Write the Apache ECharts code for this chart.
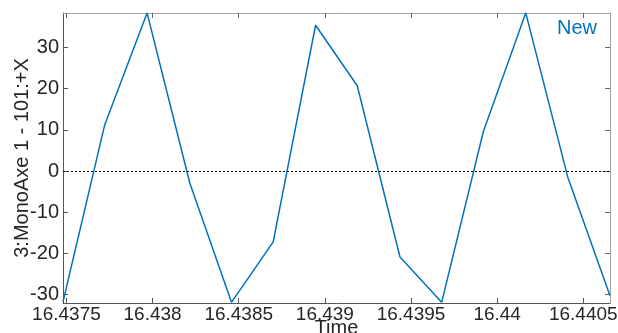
<!DOCTYPE html>
<html><head><meta charset="utf-8">
<script src="https://cdn.jsdelivr.net/npm/echarts@6/dist/echarts.min.js"></script>
<style>html,body{margin:0;padding:0;background:#fff}#c{width:618px;height:333px}</style>
</head><body><div id="c"></div>
<script>
const times = [16.43748, 16.437722, 16.437968, 16.438216, 16.438458, 16.4387, 16.438946, 16.439188, 16.439436, 16.439678, 16.43992, 16.440166, 16.44041, 16.440655];
const values = [-31.8, 11.2, 38.4, -2.9, -31.9, -17.2, 35.4, 20.7, -20.9, -31.9, 9.6, 38.4, -1.5, -30.3];
const xTicks = [16.4375, 16.438, 16.4385, 16.439, 16.4395, 16.44, 16.4405];
const yTicks = [-30, -20, -10, 0, 10, 20, 30];
const xRange = [16.43748, 16.440655];
const yRange = [-32.06, 38.38];
const seriesName = 'New';
const xName = 'Time';
const yName = '3:MonoAxe 1 - 101:+X';

const chart = echarts.init(document.getElementById('c'), null, {renderer: 'canvas'});
const font = 'Liberation Sans, Arial, Helvetica, sans-serif';
const axisCol = '#262626';
const boxCol = '#a0a0a0';
chart.setOption({
  animation: false,
  backgroundColor: '#fff',
  grid: {left: 63, right: 8, top: 13, bottom: 30, containLabel: false, outerBoundsMode: 'none'},
  legend: {
    data: [{name: seriesName, icon: 'none'}],
    right: 16, top: 13, itemWidth: 0, itemHeight: 0, itemGap: 0,
    textStyle: {color: '#0072BD', fontSize: 20, fontFamily: font}
  },
  xAxis: [{
    type: 'value', min: xRange[0], max: xRange[1],
    name: xName, nameLocation: 'middle', nameGap: 15, nameMoveOverlap: false,
    nameTextStyle: {color: axisCol, fontSize: 20, fontFamily: font, verticalAlign: 'top'},
    axisLine: {show: true, onZero: false, lineStyle: {color: '#555', width: 1}},
    axisTick: {show: true, inside: true, length: 5, customValues: xTicks, lineStyle: {color: '#555'}},
    axisLabel: {customValues: xTicks, color: axisCol, fontSize: 19, fontFamily: font, margin: 2,
      formatter: v => String(parseFloat(v.toFixed(4)))},
    splitLine: {show: false}
  }, {
    type: 'value', min: xRange[0], max: xRange[1], position: 'top',
    axisLine: {show: true, onZero: false, lineStyle: {color: boxCol, width: 1}},
    axisTick: {show: true, inside: true, length: 5, customValues: xTicks, lineStyle: {color: '#666'}},
    axisLabel: {show: false}, splitLine: {show: false}
  }],
  yAxis: [{
    type: 'value', min: yRange[0], max: yRange[1],
    name: yName, nameLocation: 'middle', nameGap: 31, nameRotate: 90, nameMoveOverlap: false,
    nameTextStyle: {color: axisCol, fontSize: 20, fontFamily: font},
    axisLine: {show: true, onZero: false, lineStyle: {color: '#555', width: 1}},
    axisTick: {show: true, inside: true, length: 5, customValues: yTicks, lineStyle: {color: '#555'}},
    axisLabel: {customValues: yTicks, color: axisCol, fontSize: 20, fontFamily: font, margin: 4},
    splitLine: {show: false}
  }, {
    type: 'value', min: yRange[0], max: yRange[1], position: 'right',
    axisLine: {show: true, onZero: false, lineStyle: {color: boxCol, width: 1}},
    axisTick: {show: true, inside: true, length: 5, customValues: yTicks, lineStyle: {color: '#666'}},
    axisLabel: {show: false}, splitLine: {show: false}
  }],
  series: [{
    name: seriesName, type: 'line', xAxisIndex: 0, yAxisIndex: 0,
    data: times.map((t, i) => [t, values[i]]),
    symbol: 'none', clip: true,
    lineStyle: {color: '#0072BD', width: 1.5},
    itemStyle: {color: '#0072BD'},
    markLine: {
      silent: true, symbol: 'none', label: {show: false},
      lineStyle: {color: '#000', type: [2, 2], width: 1.2},
      data: [{yAxis: 0}]
    }
  }]
});
</script></body></html>
